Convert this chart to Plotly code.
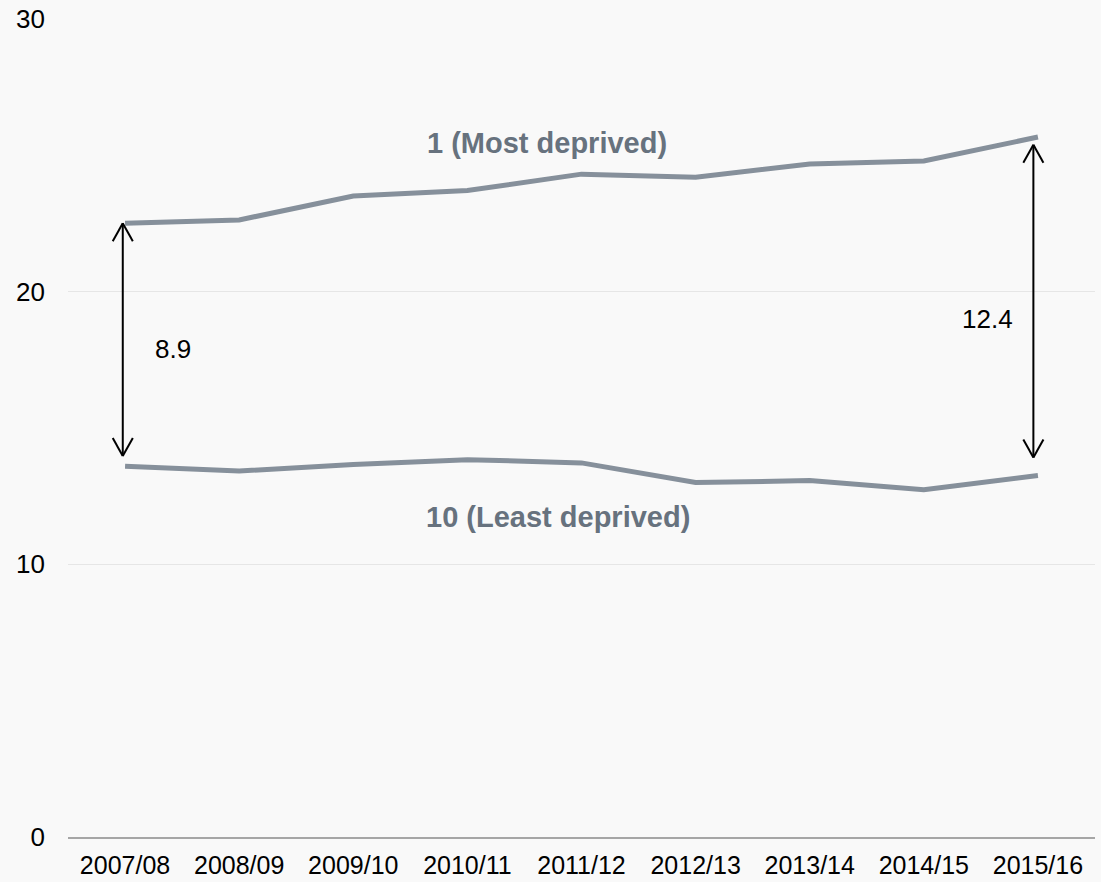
import plotly.graph_objects as go

years = ["2007/08", "2008/09", "2009/10", "2010/11", "2011/12",
         "2012/13", "2013/14", "2014/15", "2015/16"]
most_deprived = [22.51, 22.63, 23.51, 23.71, 24.31, 24.20, 24.68, 24.79, 25.67]
least_deprived = [13.60, 13.42, 13.66, 13.84, 13.72, 13.00, 13.07, 12.74, 13.26]
y_ticks = [0, 10, 20, 30]

LINE_COLOR = "#86909b"
LABEL_COLOR = "#67727e"
FONT = "Liberation Sans, Arial, sans-serif"

x_idx = list(range(len(years)))

fig = go.Figure()
for vals in (most_deprived, least_deprived):
    fig.add_trace(go.Scatter(
        x=x_idx, y=vals, mode="lines",
        line=dict(color=LINE_COLOR, width=5),
        hoverinfo="skip", showlegend=False,
    ))

# Double-headed gap arrows at the first and last year
def gap_arrow(i, top, bottom):
    hw, hl = 0.088, 0.66  # head half-width (x units), head length (y units)
    shapes = [dict(type="line", x0=i, x1=i, y0=top, y1=bottom)]
    for tip, d in ((top, -1), (bottom, 1)):
        for s in (-1, 1):
            shapes.append(dict(type="line", x0=i, y0=tip, x1=i + s * hw, y1=tip + d * hl))
    for sh in shapes:
        sh.update(xref="x", yref="y", line=dict(color="black", width=2))
        fig.add_shape(**sh)

first, last = 0, len(years) - 1
gap_first = most_deprived[first] - least_deprived[first]
gap_last = most_deprived[last] - least_deprived[last]
gap_arrow(first - 0.02, most_deprived[first], least_deprived[first] + 0.37)
gap_arrow(last - 0.04, most_deprived[last] - 0.28, least_deprived[last] + 0.66)

fig.add_annotation(x=first + 0.42, y=17.9, text=f"{gap_first:.1f}", showarrow=False,
                   font=dict(size=26, color="black", family=FONT))
fig.add_annotation(x=last - 0.44, y=19.0, text=f"{gap_last:.1f}", showarrow=False,
                   font=dict(size=26, color="black", family=FONT))

fig.add_annotation(x=3.70, y=25.45, text="<b>1 (Most deprived)</b>", showarrow=False,
                   font=dict(size=29, color=LABEL_COLOR, family=FONT))
fig.add_annotation(x=3.79, y=11.75, text="<b>10 (Least deprived)</b>", showarrow=False,
                   font=dict(size=29, color=LABEL_COLOR, family=FONT))

fig.update_layout(
    width=1101, height=882,
    margin=dict(l=68, r=6, t=19, b=45),
    paper_bgcolor="#f9f9f9", plot_bgcolor="#f9f9f9",
    font=dict(family=FONT, size=26, color="black"),
    xaxis=dict(
        range=[-0.5, 8.5], tickmode="array", tickvals=x_idx, ticktext=years,
        showgrid=False, zeroline=False, showline=True, automargin=False,
        linecolor="#a6a6a6", linewidth=1.5, ticks="", ticklabelstandoff=5,
        tickfont=dict(size=25),
    ),
    yaxis=dict(
        range=[0, 30], tickmode="array", tickvals=y_ticks, automargin=False,
        showgrid=True, gridcolor="#e6e6e6", gridwidth=1,
        zeroline=False, showline=False, ticks="", ticklabelstandoff=22,
        tickfont=dict(size=26),
    ),
)

fig.write_html("out.html")
